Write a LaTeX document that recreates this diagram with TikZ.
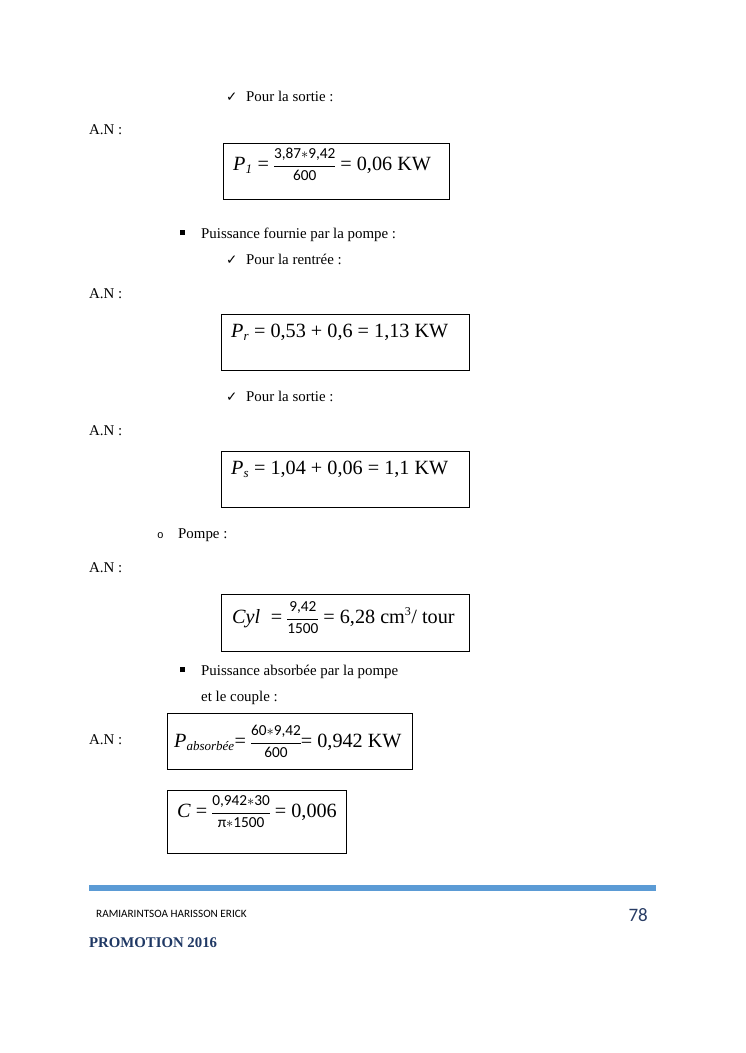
\documentclass[tikz,border=0pt]{standalone}
\usepackage{fontspec}
\usepackage{amsmath}
\setmainfont{Liberation Serif}
\newfontfamily\carl{Carlito}
\newfontfamily\djv{DejaVu Sans}
\newfontfamily\mono{Liberation Mono}
\definecolor{barblue}{RGB}{91,155,213}
\definecolor{navy}{RGB}{31,56,100}
\definecolor{slate}{RGB}{40,60,100}
\newcommand{\fr}[2]{\ensuremath{\vcenter{\offinterlineskip\carl\fontsize{15.3}{14}\selectfont
  \halign{\hfil##\hfil\cr
  \rule[-7.5pt]{0pt}{18pt}#1\cr
  \noalign{\hrule height 0.7pt}
  \rule[-2pt]{0pt}{15.8pt}#2\cr}}}}
\newcommand{\chk}{\makebox[20pt][l]{\djv\fontsize{13.5}{13}\selectfont ✓}}
\newcommand{\sq}{\makebox[24pt][l]{\hspace{3pt}\rule[3pt]{5pt}{5pt}}}
\newcommand{\sbs}[1]{\textsubscript{\fontsize{13}{13}\selectfont\itshape #1}}
\begin{document}
\begin{tikzpicture}[x=1pt,y=-1pt,
  body/.style={anchor=base west,inner sep=0pt,font=\fontsize{14.9}{17}\selectfont},
  fml/.style={anchor=base west,inner sep=0pt,font=\fontsize{20.2}{23}\selectfont},
  fbox/.style={draw,line width=0.8pt,anchor=north west,inner sep=0pt}]
\useasboundingbox (0,0) rectangle (745,1053);
% block 1
\node[body] (c1) at (226,101) {\chk Pour la sortie :};
\node[body] (an1) at (89,134) {A.N :};
\node[fbox,minimum width=226pt,minimum height=56pt] (b1) at (223,143) {};
\node[fml] (f1) at (233,170) {\textit{P}\sbs{1} = \fr{3,87$\ast$9,42}{600} = 0,06 KW};
% block 2
\node[body] (s2) at (177,238) {\sq Puissance fournie par la pompe :};
\node[body] (c2) at (226,264) {\chk Pour la rentrée :};
\node[body] (an2) at (89,298) {A.N :};
\node[fbox,minimum width=248pt,minimum height=56pt] (b2) at (221,314) {};
\node[fml] (f2) at (231,337) {\textit{P}\sbs{r} = 0,53 + 0,6 = 1,13 KW};
% block 3
\node[body] (c3) at (226,401) {\chk Pour la sortie :};
\node[body] (an3) at (89,435) {A.N :};
\node[fbox,minimum width=248pt,minimum height=56pt] (b3) at (221,451) {};
\node[fml] (f3) at (231,474) {\textit{P}\sbs{s} = 1,04 + 0,06 = 1,1 KW};
% block 4
\node[body] (p4) at (157,538) {\makebox[21pt][l]{\mono\fontsize{11}{12}\selectfont o}Pompe :};
\node[body] (an4) at (89,572) {A.N :};
\node[fbox,minimum width=248pt,minimum height=57pt] (b4) at (221,594) {};
\node[fml] (f4) at (232,623) {\textit{Cyl} \;= \fr{9,42}{1500} = 6,28 cm\textsuperscript{\fontsize{12}{12}\selectfont 3}/ tour};
% block 5
\node[body] (s5) at (177,675) {\sq Puissance absorbée par la pompe};
\node[body] (s5b) at (201,701) {et le couple :};
\node[body] (an5) at (89,744) {A.N :};
\node[fbox,minimum width=245pt,minimum height=56pt] (b5) at (167,713) {};
\node[fml] (f5) at (174,747) {\textit{P}\sbs{absorbée}= \fr{60$\ast$9,42}{600}= 0,942 KW};
% block 6
\node[fbox,minimum width=179pt,minimum height=63pt] (b6) at (167,790) {};
\node[fml] (f6) at (177,817) {\textit{C} = \fr{0,942$\ast$30}{π$\ast$1500} = 0,006};
% footer
\fill[barblue] (89,885) rectangle (656,891);
\node[anchor=base west,inner sep=0pt,font=\carl\fontsize{11.2}{12}\selectfont] (auth) at (96,917) {RAMIARINTSOA HARISSON ERICK};
\node[anchor=base east,inner sep=0pt,font=\carl\fontsize{19}{20}\selectfont,text=slate] (pg) at (648,921) {78};
\node[anchor=base west,inner sep=0pt,font=\bfseries\fontsize{14.8}{16}\selectfont,text=navy] (promo) at (89,947) {PROMOTION 2016};
\end{tikzpicture}
\end{document}
